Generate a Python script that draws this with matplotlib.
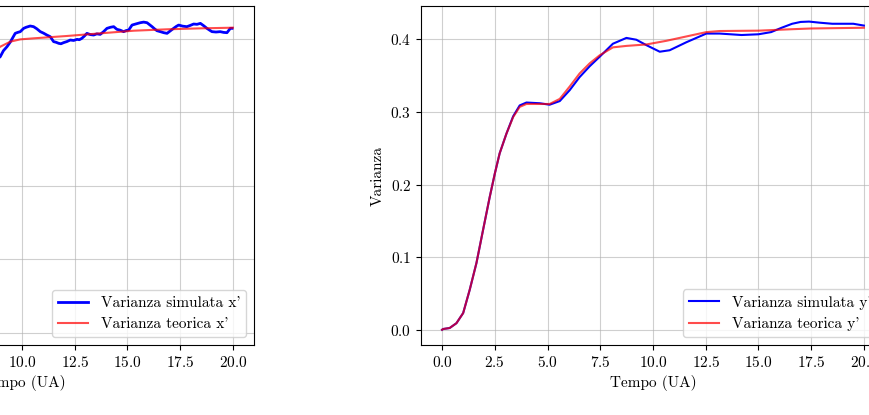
import matplotlib
matplotlib.use("Agg")
import matplotlib.pyplot as plt

plt.rcParams["font.family"] = "serif"
plt.rcParams["font.serif"] = ["cmr10"]
plt.rcParams["mathtext.fontset"] = "cm"
plt.rcParams["axes.formatter.use_mathtext"] = True
plt.rcParams["font.size"] = 11

# x' variance (left panel, only t > ~9 is visible)
t_sim_x = [8.8, 8.97, 9.12, 9.29, 9.45, 9.68, 9.80, 9.92, 10.08, 10.20, 10.39, 10.55,
           10.70, 10.87, 11.02, 11.18, 11.34, 11.50, 11.62, 11.74, 11.85, 11.97, 12.13,
           12.29, 12.45, 12.61, 12.72, 12.84, 12.96, 13.08, 13.24, 13.40, 13.55, 13.71,
           13.87, 14.03, 14.20, 14.35, 14.50, 14.66, 14.82, 14.94, 15.06, 15.22, 15.40,
           15.61, 15.77, 15.93, 16.05, 16.17, 16.28, 16.40, 16.56, 16.72, 16.88, 17.03,
           17.19, 17.31, 17.43, 17.62, 17.82, 17.98, 18.14, 18.30, 18.46, 18.62, 18.77,
           18.90, 19.01, 19.20, 19.40, 19.56, 19.72, 19.88, 19.96]
var_sim_x = [0.372, 0.3759, 0.3840, 0.3895, 0.3960, 0.4077, 0.4090, 0.4100, 0.4145,
             0.4160, 0.4177, 0.4168, 0.4140, 0.4100, 0.4080, 0.4054, 0.4032, 0.3964,
             0.3955, 0.3941, 0.3935, 0.3950, 0.3965, 0.3986, 0.3980, 0.3995, 0.3990,
             0.4009, 0.4040, 0.4077, 0.4060, 0.4054, 0.4070, 0.4063, 0.4100, 0.4145,
             0.4160, 0.4168, 0.4132, 0.4120, 0.4100, 0.4115, 0.4122, 0.4190, 0.4205,
             0.4222, 0.4230, 0.4222, 0.4195, 0.4168, 0.4140, 0.4113, 0.4100, 0.4086,
             0.4077, 0.4110, 0.4145, 0.4170, 0.4190, 0.4175, 0.4168, 0.4185, 0.4204,
             0.4200, 0.4213, 0.4180, 0.4145, 0.4120, 0.4100, 0.4095, 0.4100, 0.4090,
             0.4086, 0.4145, 0.4145]
t_teo_x = [8.8, 8.97, 9.45, 9.92, 10.55, 12.13, 13.71, 15.30, 16.88, 18.46, 20.0]
var_teo_x = [0.386, 0.3895, 0.3964, 0.3995, 0.4009, 0.4041, 0.4077, 0.4113, 0.4132,
             0.4145, 0.4154]

# y' variance (right panel)
t_sim_y = [0.0, 0.05, 0.36, 0.68, 1.0, 1.31, 1.63, 1.94, 2.26, 2.5, 2.73, 3.05, 3.37,
           3.68, 4.0, 4.63, 5.1, 5.58, 6.05, 6.52, 7.0, 7.47, 8.1, 8.74, 9.21, 9.69,
           10.32, 10.79, 11.58, 12.53, 13.16, 14.2, 15.0, 15.6, 16.1, 16.6, 17.0, 17.4,
           17.9, 18.5, 19.5, 20.0]
var_sim_y = [0.0, 0.001, 0.0024, 0.009, 0.023, 0.055, 0.092, 0.137, 0.183, 0.215,
             0.243, 0.270, 0.294, 0.309, 0.313, 0.312, 0.310, 0.315, 0.330, 0.348,
             0.363, 0.376, 0.394, 0.402, 0.3995, 0.392, 0.383, 0.385, 0.396, 0.408,
             0.408, 0.406, 0.407, 0.410, 0.416, 0.4215, 0.424, 0.4245, 0.423, 0.4215,
             0.4215, 0.419]
t_teo_y = [0.0, 0.05, 0.36, 0.68, 1.0, 1.31, 1.63, 1.94, 2.26, 2.5, 2.73, 3.05, 3.37,
           3.68, 4.0, 4.63, 5.1, 5.58, 6.05, 6.52, 7.0, 7.47, 8.1, 8.74, 9.69, 10.63,
           11.58, 12.53, 13.16, 15.0, 16.6, 17.5, 20.0]
var_teo_y = [0.0, 0.001, 0.0024, 0.009, 0.023, 0.055, 0.092, 0.137, 0.183, 0.215,
             0.243, 0.270, 0.293, 0.307, 0.311, 0.311, 0.311, 0.318, 0.335, 0.353,
             0.367, 0.378, 0.389, 0.391, 0.393, 0.398, 0.404, 0.410, 0.4115, 0.412,
             0.414, 0.415, 0.416]

fig = plt.figure(figsize=(8.7, 4.15), dpi=100)
ax1 = fig.add_axes([-0.2414, 0.1687, 0.5333, 0.8169])
ax2 = fig.add_axes([0.4839, 0.1687, 0.5333, 0.8169])

ax1.plot(t_sim_x, var_sim_x, color="blue", lw=2.0, label="Varianza simulata x'")
ax1.plot(t_teo_x, var_teo_x, color="red", lw=1.5, alpha=0.7, label="Varianza teorica x'")
ax1.set_xlim(-1, 21)
ax1.set_ylim(-0.017, 0.445)

ax2.plot(t_sim_y, var_sim_y, color="blue", lw=1.5, label="Varianza simulata y'")
ax2.plot(t_teo_y, var_teo_y, color="red", lw=1.5, alpha=0.7, label="Varianza teorica y'")
ax2.set_xlim(-1, 21)
ax2.set_ylim(-0.021, 0.446)

for ax in (ax1, ax2):
    ax.grid(True, color="#b0b0b0", alpha=0.6)
    ax.set_xlabel("Tempo (UA)")
    ax.set_ylabel("Varianza")
    ax.legend(loc="lower right")

fig.savefig("out.png", dpi=100)
